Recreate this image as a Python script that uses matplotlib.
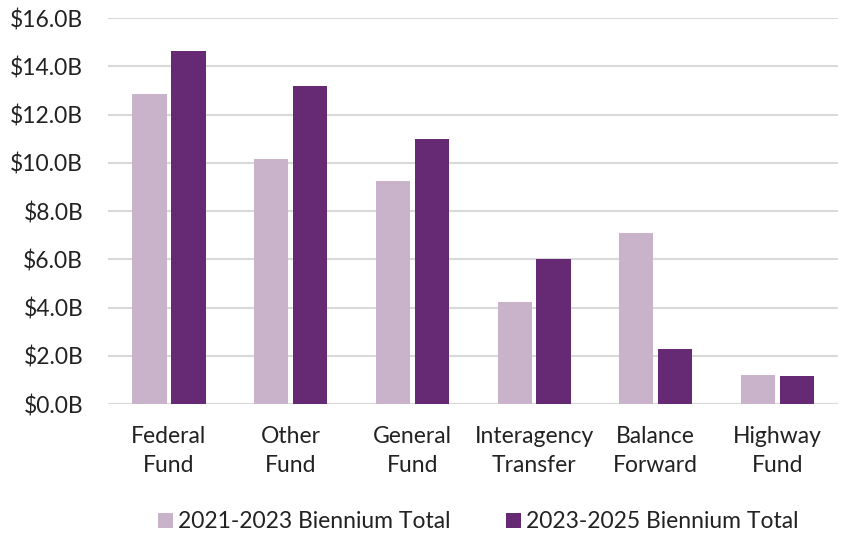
import numpy as np
import matplotlib
matplotlib.use("Agg")
import matplotlib.pyplot as plt

categories = ["Federal\nFund", "Other\nFund", "General\nFund", "Interagency\nTransfer", "Balance\nForward", "Highway\nFund"]
series_2021 = [12.85, 10.18, 9.25, 4.22, 7.08, 1.21]
series_2023 = [14.66, 13.19, 11.0, 6.03, 2.29, 1.17]
labels = ["2021-2023 Biennium Total", "2023-2025 Biennium Total"]
yticks = [0, 2, 4, 6, 8, 10, 12, 14, 16]

plt.rcParams['font.family'] = ['Lato', 'DejaVu Sans']
fs = 16.5

fig = plt.figure(figsize=(8.45, 5.36), dpi=100)
ax = fig.add_axes([0.128, 0.246, 0.864, 0.72])

x = np.arange(len(categories))
w = 0.28
ax.bar(x - w / 2 - 0.02, series_2021, w, color="#c9b3cb", label=labels[0], zorder=3)
ax.bar(x + w / 2 + 0.02, series_2023, w, color="#662a74", label=labels[1], zorder=3)

ax.set_ylim(0, 16)
ax.set_xlim(-0.5, len(categories) - 0.5)
ax.set_yticks(yticks)
ax.set_yticklabels([f"${v:.1f}B" for v in yticks], fontsize=fs, color="#222222")
ax.set_xticks(x)
ax.set_xticklabels(categories, fontsize=fs, linespacing=1.45, color="#222222")
ax.tick_params(axis='y', length=0, pad=18)
ax.tick_params(axis='x', length=0, pad=16)
ax.grid(axis='y', color="#d9d9d9", linewidth=1.5, zorder=0)
for s in ax.spines.values():
    s.set_visible(False)
ax.axhline(0, color="#d9d9d9", linewidth=1.5, zorder=2)

ax.legend(loc="center", bbox_to_anchor=(0.507, -0.305), ncol=2, frameon=False,
          fontsize=fs, handlelength=0.65, handleheight=0.65, handletextpad=0.25,
          columnspacing=2.4, labelcolor="#222222")

fig.savefig("out.png", dpi=100)
